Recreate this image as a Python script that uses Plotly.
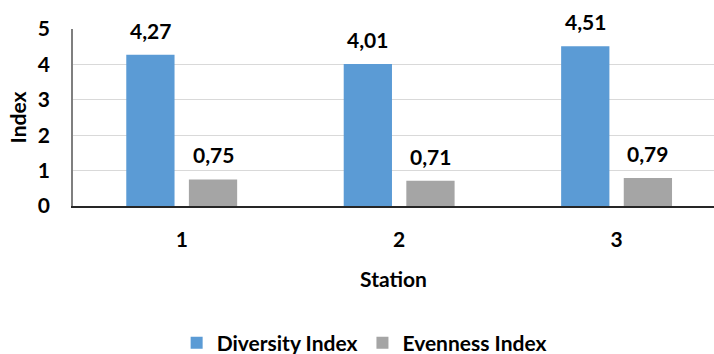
import plotly.graph_objects as go

stations = ["1", "2", "3"]
diversity = [4.27, 4.01, 4.51]
evenness = [0.75, 0.71, 0.79]
y_ticks = [0, 1, 2, 3, 4, 5]

FONT = "Lato"
FS = 21
BLUE = "#5B9BD5"
GRAY = "#A5A5A5"

xpos = list(range(len(stations)))
bar_w = 0.222
offsets = {"div": -0.255, "eve": 0.033}


def fmt(v):
    return f"{v:.2f}".replace(".", ",")


def bold(size=FS):
    return dict(family=FONT, size=size, color="#000000", weight="bold")


fig = go.Figure()
fig.add_trace(go.Bar(
    x=xpos, y=diversity, name="Diversity Index",
    marker=dict(color=BLUE, line=dict(width=0)),
    width=bar_w, offset=offsets["div"],
))
fig.add_trace(go.Bar(
    x=xpos, y=evenness, name="Evenness Index",
    marker=dict(color=GRAY, line=dict(width=0)),
    width=bar_w, offset=offsets["eve"],
))

# value labels above each bar
annotations = []
for key, series in (("div", diversity), ("eve", evenness)):
    for i, v in enumerate(series):
        annotations.append(dict(
            x=i + offsets[key] + bar_w / 2, y=v, xref="x", yref="y",
            text=fmt(v), showarrow=False, yanchor="bottom", yshift=10,
            font=bold(),
        ))

fig.update_layout(
    width=714, height=354,
    margin=dict(l=72.75, r=0, t=29.3, b=147.7, autoexpand=False),
    paper_bgcolor="white", plot_bgcolor="white",
    barmode="group",
    showlegend=True,
    legend=dict(
        orientation="h", xref="container", yref="paper",
        x=0.51, xanchor="center", y=-0.775, yanchor="middle",
        font=bold(), itemsizing="constant",
    ),
    annotations=annotations,
    font=dict(family=FONT, size=FS, color="#000000"),
)

fig.update_xaxes(
    range=[-0.5, 2.448],
    tickvals=xpos, ticktext=stations,
    showgrid=False, zeroline=False, automargin=False,
    showline=True, linecolor="#262626", linewidth=1.5,
    ticks="", ticklabelstandoff=14,
    tickfont=bold(),
    title=dict(text="Station", standoff=22, font=bold()),
)
fig.update_yaxes(
    range=[0, 5], tickvals=y_ticks,
    showgrid=True, gridcolor="#D9D9D9", gridwidth=1,
    zeroline=False, automargin=False,
    showline=True, linecolor="#7F7F7F", linewidth=1.5,
    ticks="", ticklabelstandoff=17,
    tickfont=bold(),
    title=dict(text="Index", standoff=6, font=bold()),
)

fig.write_html("out.html")
